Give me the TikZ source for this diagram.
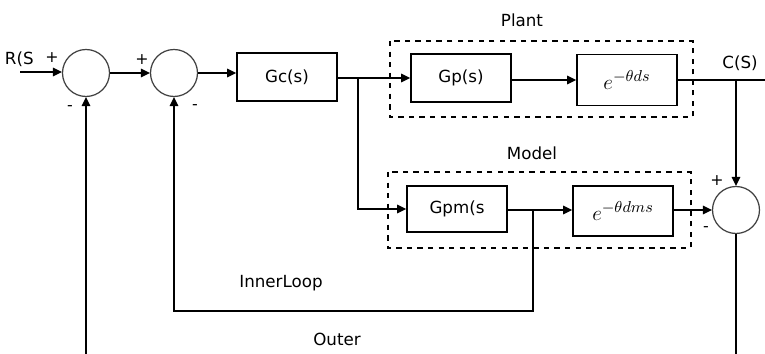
\documentclass[tikz,border=0pt]{standalone}
\usepackage{fontspec}
\setmainfont{DejaVu Sans}
\usepackage{tikz}
\usetikzlibrary{arrows.meta,positioning,calc}
\tikzset{
  blk/.style={draw,line width=0.9pt,minimum width=2cm,minimum height=0.96cm,inner sep=0pt,
    font=\fontsize{9.5}{11}\selectfont},
  dly/.style={blk,font=\fontsize{12.5}{14}\selectfont},
  sumc/.style={circle,draw=black!75,line width=0.7pt,minimum size=0.94cm,inner sep=0pt},
  grp/.style={draw,dashed,line width=0.6pt},
  arr/.style={-{Triangle[length=1.8mm,width=1.7mm]},line width=0.9pt},
  wire/.style={line width=0.9pt},
  lbl/.style={font=\fontsize{9.5}{11}\selectfont,inner sep=0pt},
  sgn/.style={font=\small,inner sep=0pt},
}
\begin{document}
\begin{tikzpicture}[x=0.02cm,y=-0.02cm]
  \useasboundingbox (0,0) rectangle (765,354);
  % summing junctions
  \node[sumc] (s1) at (86,73) {};
  \node[sumc] (s2) at (174,73) {};
  \node[sumc] (s3) at (736,210) {};
  % blocks
  \node[blk] (gc) at (287,77) {Gc(s)};
  \node[blk] (gp) at (461,78) {Gp(s)};
  \node[dly,minimum height=1.02cm] (ep) at (627,80) {$e^{-\theta ds}$};
  \node[blk,minimum height=0.92cm] (gpm) at (457,209) {Gpm(s};
  \node[dly,minimum height=1cm] (em) at (623,211) {$e^{-\theta dms}$};
  % plant and model groups
  \draw[grp] (390,41) rectangle (693,117);
  \draw[grp] (388,172) rectangle (691,248);
  \node[lbl] (plant) at (522,20) {Plant};
  \node[lbl] (model) at (532,153) {Model};
  % forward path
  \coordinate (rin) at (20,72);
  \draw[arr] (rin) -- (rin -| s1.west);
  \draw[arr] (s1) -- (s2);
  \draw[arr] (s2.east) -- (s2.east -| gc.west);
  \coordinate (b1) at (358,78);
  \draw[wire] (gc.east |- b1) -- (b1);
  \draw[arr] (b1) -- (b1 -| gp.west);
  \draw[arr] (gp.east |- ep) -- (ep);
  \coordinate (b3) at (736,80);
  \coordinate (yout) at (765,80);
  \draw[wire] (ep) -- (yout);
  \draw[arr] (b3) -- (s3);
  % model path
  \draw[arr] (b1) |- (gpm);
  \coordinate (b2) at (533,210);
  \draw[arr] (gpm.east |- b2) -- (b2 -| em.west);
  \draw[arr] (em.east |- s3) -- (s3);
  % inner loop
  \coordinate (inl) at (533,311);
  \draw[arr] (b2) -- (inl) -| (s2);
  % outer loop
  \coordinate (outr) at (736,354);
  \coordinate (outl) at (86,354);
  \draw[wire] (s3) -- (outr);
  \draw[arr] (outl) -- (s1);
  % signs and labels
  \node[lbl,anchor=east] (rlab) at (34,59) {R(S};
  \node[lbl] (clab) at (740,63) {C(S)};
  \node[sgn] (p1) at (52,58) {+};
  \node[sgn] (p2) at (142,60) {+};
  \node[sgn] (p3) at (717,181) {+};
  \node[sgn] (m1) at (70,108) {-};
  \node[sgn] (m2) at (195,107) {-};
  \node[sgn] (m3) at (706,229) {-};
  \node[lbl] (innerlbl) at (281,283) {InnerLoop};
  \node[lbl] (outerlbl) at (337,339) {Outer};
\end{tikzpicture}
\end{document}
